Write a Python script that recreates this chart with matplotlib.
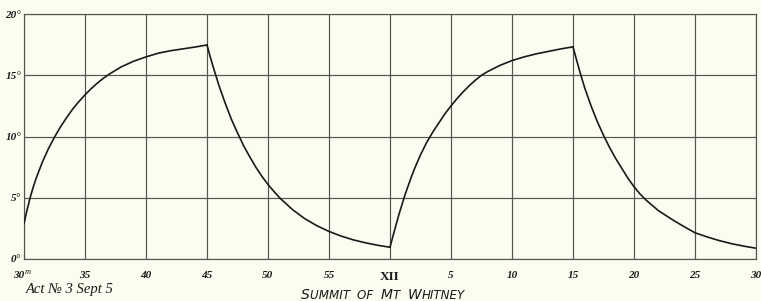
import matplotlib
matplotlib.use("Agg")
import matplotlib.pyplot as plt

# ---- data (minutes; 60 = XII noon) ----
rise1_x = [30, 30.25, 30.5, 30.75, 31, 31.5, 32, 32.5, 33, 33.5, 34, 34.5, 35, 35.5, 36, 36.5,
           37, 37.5, 38, 39, 40, 41, 42, 43, 44, 45]
rise1_y = [2.9, 4.0, 5.0, 5.85, 6.6, 7.9, 9.0, 9.95, 10.8, 11.55, 12.25, 12.85, 13.4, 13.9, 14.35, 14.75,
           15.1, 15.4, 15.7, 16.15, 16.5, 16.8, 17.0, 17.15, 17.3, 17.47]

fall1_x = [45, 45.25, 45.5, 45.75, 46, 46.5, 47, 47.5, 48, 48.5, 49, 49.5, 50, 50.5, 51, 52, 53, 54,
           55, 56, 57, 58, 59, 60]
fall1_y = [17.47, 16.55, 15.7, 14.9, 14.1, 12.7, 11.4, 10.3, 9.25, 8.35, 7.5, 6.75, 6.08, 5.5, 4.95, 4.04,
           3.3, 2.72, 2.25, 1.87, 1.56, 1.32, 1.12, 0.96]

rise2_x = [60, 60.25, 60.5, 60.75, 61, 61.25, 61.5, 61.75, 62, 62.5, 63, 63.5, 64, 64.5, 65, 65.5,
           66, 66.5, 67, 67.5, 68, 69, 70, 71, 72, 73, 74, 75]
rise2_y = [0.96, 1.9, 2.8, 3.7, 4.5, 5.3, 6.0, 6.7, 7.35, 8.5, 9.5, 10.35, 11.1, 11.85, 12.5, 13.1,
           13.65, 14.15, 14.6, 15.0, 15.3, 15.8, 16.2, 16.5, 16.75, 16.95, 17.15, 17.32]

fall2_x = [75, 75.25, 75.5, 75.75, 76, 76.5, 77, 77.5, 78, 78.5, 79, 79.5, 80, 80.5, 81, 82, 83, 84,
           85, 86, 87, 88, 89, 90]
fall2_y = [17.32, 16.4, 15.5, 14.65, 13.85, 12.45, 11.2, 10.1, 9.1, 8.2, 7.4, 6.6, 5.9, 5.3, 4.8, 3.95,
           3.3, 2.7, 2.14, 1.8, 1.5, 1.25, 1.05, 0.88]

x_ticks = [30, 35, 40, 45, 50, 55, 60, 65, 70, 75, 80, 85, 90]
x_labels = ["30", "35", "40", "45", "50", "55", "XII", "5", "10", "15", "20", "25", "30"]
y_ticks = [0, 5, 10, 15, 20]
y_labels = ["0°", "5°", "10°", "15°", "20°"]

caption_left = "Act № 3 Sept 5"
caption_parts = [("S", 10), ("UMMIT  ", 8.6), ("OF  ", 8.6), ("M", 10), ("T  ", 8.6), ("W", 10), ("HITNEY", 8.6)]

# ---- figure ----
bg = "#fcfcf1"
ink = "#1a1a1a"
grid_c = "#55554f"
serif = ["Liberation Serif", "DejaVu Serif"]

fig = plt.figure(figsize=(7.61, 3.01), dpi=100, facecolor=bg)
ax = fig.add_axes([24 / 761, 1 - 259 / 301, (756 - 24) / 761, (259 - 14) / 301])
ax.set_facecolor(bg)

ax.set_xlim(30, 90)
ax.set_ylim(0, 20)
ax.set_xticks(x_ticks)
ax.set_yticks(y_ticks)
ax.set_xticklabels(x_labels, fontfamily=serif, fontstyle="italic", fontweight="bold",
                   fontsize=8, color=ink)
ax.set_yticklabels(y_labels, fontfamily=serif, fontstyle="italic", fontweight="bold",
                   fontsize=8, color=ink)
ax.tick_params(axis="both", length=0)
ax.tick_params(axis="x", pad=9)
ax.tick_params(axis="y", pad=2)
for i, lab in enumerate(ax.get_xticklabels()):
    if lab.get_text() == "XII":
        lab.set_fontstyle("normal")
        lab.set_fontsize(9.5)
    if i == 0:
        lab.set_horizontalalignment("right")

# the "m" superscript on the first minute label
ax.annotate("m", xy=(30, 0), xycoords="data", xytext=(0.5, -9), textcoords="offset points",
            fontfamily=serif, fontstyle="italic", fontsize=6, color=ink,
            ha="left", va="center", annotation_clip=False)

ax.grid(True, color=grid_c, linewidth=0.85)
ax.set_axisbelow(True)
for s in ax.spines.values():
    s.set_color(grid_c)
    s.set_linewidth(0.85)

for xs, ys in [(rise1_x, rise1_y), (fall1_x, fall1_y), (rise2_x, rise2_y), (fall2_x, fall2_y)]:
    ax.plot(xs, ys, color=ink, linewidth=1.2, solid_joinstyle="miter", zorder=3)

fig.text(26 / 761, 1 - 289 / 301, caption_left, fontfamily=serif, fontstyle="italic",
         fontsize=10.5, color=ink, ha="left", va="center")

sans_it = dict(fontfamily="DejaVu Sans", fontstyle="italic", color=ink)
prev = fig.text(301 / 761, 1 - 299 / 301, caption_parts[0][0], fontsize=caption_parts[0][1],
                ha="left", va="baseline", **sans_it)
for txt, sz in caption_parts[1:]:
    prev = fig.add_artist(plt.Annotation(txt, xy=(1, 0), xycoords=prev, va="bottom", ha="left",
                                         fontsize=sz, **sans_it))

fig.savefig("out.png", dpi=100, facecolor=bg)
